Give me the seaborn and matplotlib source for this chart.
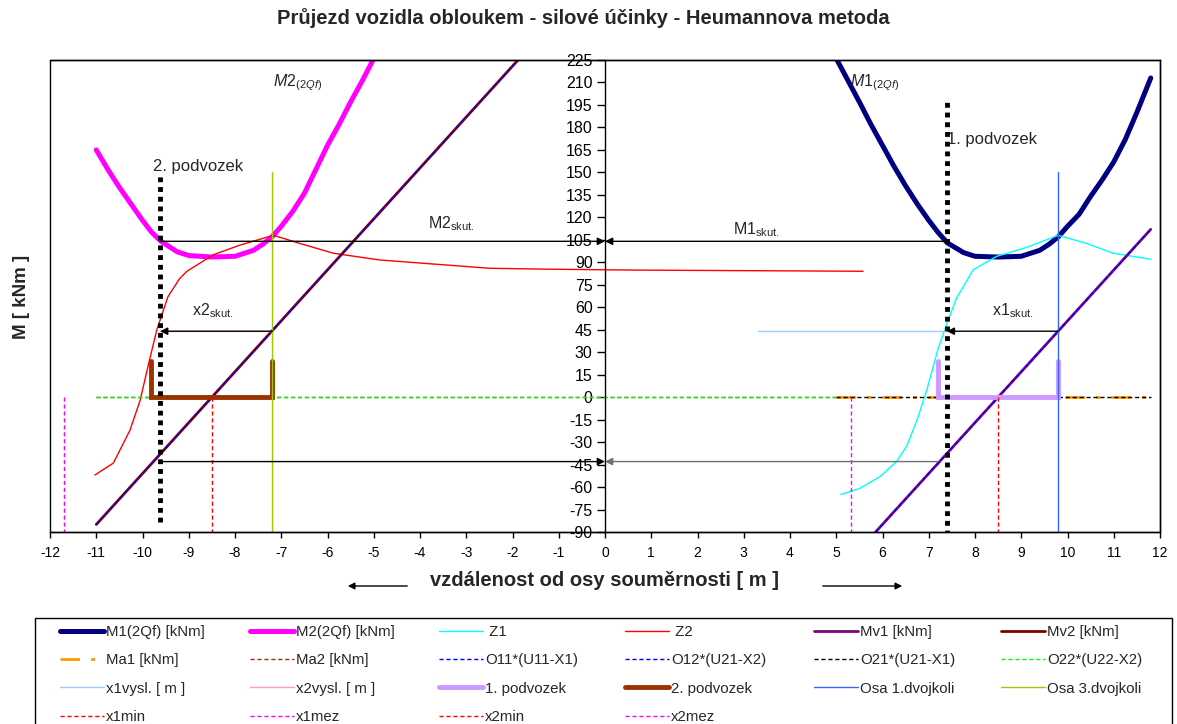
import matplotlib
matplotlib.use("Agg")
import matplotlib.pyplot as plt
import seaborn as sns
from matplotlib.lines import Line2D
from matplotlib.patches import Rectangle, FancyArrowPatch

# ---------------- data ----------------
# bending moment of bogie 1 (2Qf) [kNm]
m1_x = [5.0, 5.5, 5.75, 6.0, 6.25, 6.5, 6.75, 7.0, 7.2, 7.4, 7.75, 8.0, 8.5, 9.0, 9.4, 9.6, 9.8,
        10.0, 10.25, 10.5, 10.75, 11.0, 11.25, 11.5, 11.8]
m1_y = [226, 197, 182, 168, 154, 141, 129, 118, 110, 103, 96.5, 94, 93.5, 94, 98, 102, 107,
        114, 122, 134, 145, 157, 172, 190, 213]
# bending moment of bogie 2 (2Qf) [kNm]
m2_x = [-11.0, -10.75, -10.5, -10.25, -10.0, -9.8, -9.6, -9.25, -9.0, -8.5, -8.0, -7.6, -7.4, -7.2,
        -7.0, -6.75, -6.5, -6.25, -6.0, -5.75, -5.5, -5.25, -5.0]
m2_y = [165, 152, 140, 129, 118, 110, 104, 97, 94.5, 93.5, 94, 98, 102, 107,
        114, 124, 136, 152, 168, 182, 197, 211, 226]
# Z1 / Z2 curves
z1_x = [5.1, 5.5, 5.95, 6.3, 6.52, 6.75, 6.96, 7.2, 7.39, 7.6, 7.96, 8.47, 9.12, 9.8, 10.42, 10.99, 11.8]
z1_y = [-65, -61, -53, -43, -33, -15, 5, 32, 49, 66, 85, 94, 100, 108, 102.5, 96, 92]
z2_x = [-11.03, -10.63, -10.27, -10.05, -9.87, -9.69, -9.45, -9.2, -9.04, -8.47, -7.89, -7.17,
        -6.59, -5.87, -4.86, -2.49, -1.26, 0.61, 3.78, 5.58]
z2_y = [-52, -44, -22, -2, 22, 45, 67, 79, 84, 95, 101.5, 108, 102.5, 96, 91.5, 86, 85.4, 84.8, 84.3, 84]
# guiding moments Mv1 / Mv2 [kNm]
mv1_x = [5.85, 11.8]
mv1_y = [-90, 112]
mv2_x = [-11.0, -1.88]
mv2_y = [-85, 225]
# zero lines
o22_x = [-11.0, 5.0]
o21_x = [5.0, 11.8]
zero_y = [0, 0]
# resulting positions x1 / x2 [m]
x1vysl_x = [3.3, 7.39]
x2vysl_x = [-9.62, -7.19]
x_vysl_y = [44, 44]
# bogie brackets
pod1_x = [7.21, 7.21, 9.80, 9.80]
pod2_x = [-9.82, -9.82, -7.19, -7.19]
pod_y = [24, 0, 0, 24]
# wheelset axes
osa1_x = 9.80
osa3_x = -7.19
osa_y = [-90, 150]
# limit positions
x1min_x, x1mez_x, x2min_x, x2mez_x = 8.49, 5.31, -8.50, -11.70
lim_y = [0, -90]
# bogie centre lines
bogie2_x, bogie2_y = -9.62, [-83, 150]
bogie1_x, bogie1_y = 7.39, [-92, 198]
# actual moments / positions
m_skut = 104
m_low = -43
x_skut = 44

y_ticks = list(range(-90, 226, 15))
x_ticks = list(range(-12, 13))

# ---------------- style ----------------
sns.set_style("white")
plt.rcParams["font.family"] = ["Liberation Sans", "DejaVu Sans"]
plt.rcParams["axes.unicode_minus"] = False
plt.rcParams["mathtext.fontset"] = "custom"
plt.rcParams["mathtext.rm"] = "Liberation Sans"
plt.rcParams["mathtext.it"] = "Liberation Sans:italic"

W, H = 1177, 724
fig = plt.figure(figsize=(W / 100, H / 100), dpi=100)
ax = fig.add_axes([50 / W, 1 - 532 / H, 1110 / W, 472 / H])

C_M1, C_M2 = "#000080", "#FF00FF"
C_Z1, C_Z2 = "#00FFFF", "#FF0000"
C_MV1, C_MV2 = "#800080", "#800000"
C_MA1, C_MA2 = "#FF9900", "#993300"
C_X1V, C_X2V = "#99CCFF", "#FF99CC"
C_P1, C_P2 = "#CC99FF", "#993300"
C_OSA1, C_OSA3 = "#3366FF", "#99CC00"
DASH = (0, (3, 2))
DASHDOT = (0, (7, 4, 1.5, 4))

# main curves
sns.lineplot(x=m1_x, y=m1_y, ax=ax, color=C_M1, lw=3.6, sort=False, estimator=None)
sns.lineplot(x=m2_x, y=m2_y, ax=ax, color=C_M2, lw=3.6, sort=False, estimator=None)
sns.lineplot(x=z1_x, y=z1_y, ax=ax, color=C_Z1, lw=1.0, sort=False, estimator=None)
sns.lineplot(x=z2_x, y=z2_y, ax=ax, color=C_Z2, lw=1.0, sort=False, estimator=None)
sns.lineplot(x=mv1_x, y=mv1_y, ax=ax, color=C_MV1, lw=2.0, sort=False, estimator=None)
sns.lineplot(x=mv2_x, y=mv2_y, ax=ax, color=C_MV2, lw=2.0, sort=False, estimator=None)

# zero lines and overlays
ax.plot(o21_x, zero_y, color=C_MA1, lw=2.0, linestyle=DASHDOT)
ax.plot(o22_x, zero_y, color=C_MA2, lw=1.0, linestyle=DASH)
ax.plot(mv1_x, mv1_y, color="#0000FF", lw=1.0, linestyle=DASH)
ax.plot(mv2_x, mv2_y, color="#0000FF", lw=1.0, linestyle=DASH)
ax.plot(o21_x, zero_y, color="black", lw=1.0, linestyle=DASH)
ax.plot(o22_x, zero_y, color="#00FF00", lw=1.0, linestyle=DASH)

ax.plot(x1vysl_x, x_vysl_y, color=C_X1V, lw=1.0)
ax.plot(x2vysl_x, x_vysl_y, color=C_X2V, lw=1.0)

ax.plot(pod1_x, pod_y, color=C_P1, lw=3.5, solid_joinstyle="miter")
ax.plot(pod2_x, pod_y, color=C_P2, lw=3.5, solid_joinstyle="miter")

ax.plot([osa1_x, osa1_x], osa_y, color=C_OSA1, lw=1.0)
ax.plot([osa3_x, osa3_x], osa_y, color=C_OSA3, lw=1.0)

ax.plot([x1min_x, x1min_x], lim_y, color="#FF0000", lw=1.0, linestyle=DASH)
ax.plot([x1mez_x, x1mez_x], lim_y, color="#FF00FF", lw=1.0, linestyle=DASH)
ax.plot([x2min_x, x2min_x], lim_y, color="#FF0000", lw=1.0, linestyle=DASH)
ax.plot([x2mez_x, x2mez_x], lim_y, color="#FF00FF", lw=1.0, linestyle=DASH)

# bogie centre lines (thick dotted)
ax.plot([bogie2_x, bogie2_x], bogie2_y, color="black", lw=3.5, linestyle=(0, (1, 1)), zorder=6)
ax.plot([bogie1_x, bogie1_x], bogie1_y, color="black", lw=3.5, linestyle=(0, (1, 1)), zorder=6)

# arrows
arr = dict(arrowstyle="-|>", lw=1.0, mutation_scale=11, shrinkA=0, shrinkB=0)
def arrow(x0, y0, x1, y1, color="black"):
    ax.annotate("", xy=(x1, y1), xytext=(x0, y0),
                arrowprops=dict(arr, color=color), zorder=7)

arrow(bogie2_x, m_skut, 0, m_skut)
arrow(bogie1_x, m_skut, 0, m_skut)
arrow(bogie2_x, m_low, 0, m_low)
arrow(7.2, m_low, 0, m_low, color="#707070")
arrow(osa3_x, x_skut, bogie2_x, x_skut)
arrow(osa1_x, x_skut, bogie1_x, x_skut)

# annotations
tfs = 11.5
ax.text(-7.18, 210, r"$\mathit{M2}_{\mathit{(2Qf)}}$", fontsize=tfs, ha="left", va="center")
ax.text(5.30, 210, r"$\mathit{M1}_{\mathit{(2Qf)}}$", fontsize=tfs, ha="left", va="center")
ax.text(-9.77, 154, "2. podvozek", fontsize=12, ha="left", va="center")
ax.text(7.39, 172, "1. podvozek", fontsize=12, ha="left", va="center")
ax.text(-8.93, 58, r"x2$_{\mathrm{skut.}}$", fontsize=tfs, ha="left", va="center")
ax.text(8.37, 58, r"x1$_{\mathrm{skut.}}$", fontsize=tfs, ha="left", va="center")
ax.text(-3.83, 115.5, r"M2$_{\mathrm{skut.}}$", fontsize=tfs, ha="left", va="center")
ax.text(2.77, 111.5, r"M1$_{\mathrm{skut.}}$", fontsize=tfs, ha="left", va="center")

# axes
ax.set_xlim(-12, 12)
ax.set_ylim(-90, 225)
ax.set_xticks(x_ticks)
ax.set_yticks(y_ticks)
ax.spines["left"].set_position(("data", 0))
for s in ax.spines.values():
    s.set_color("black")
    s.set_linewidth(1.0)
ax.add_patch(Rectangle((0, 0), 1, 1, transform=ax.transAxes, fill=False,
                       edgecolor="black", lw=1.0, clip_on=False, zorder=8))
ax.tick_params(axis="y", direction="out", length=6, width=1, pad=3, labelsize=11.5,
               left=True, colors="black")
ax.tick_params(axis="x", direction="out", length=4, width=1, pad=6, labelsize=10,
               bottom=True, colors="black")
ax.set_xlabel("")
ax.set_ylabel("")

# titles
fig.text(583 / W, 1 - 18 / H, "Průjezd vozidla obloukem - silové účinky - Heumannova metoda",
         ha="center", va="center", fontsize=14.5, fontweight="bold")
fig.text(22 / W, 1 - 297 / H, "M [ kNm ]", rotation=90, ha="center", va="center",
         fontsize=13.5, fontweight="bold")
fig.text(604 / W, 1 - 580 / H, "vzdálenost od osy souměrnosti [ m ]", ha="center",
         va="center", fontsize=14.5, fontweight="bold")
for xa, xb in [(410, 345), (820, 905)]:
    fig.add_artist(FancyArrowPatch((xa / W, 1 - 586 / H), (xb / W, 1 - 586 / H),
                                   transform=fig.transFigure, arrowstyle="-|>",
                                   mutation_scale=10, lw=1.0, color="black"))

# legend
def h(color, lw=1.0, ls="-"):
    return Line2D([], [], color=color, lw=lw, linestyle=ls)

entries = [
    (h(C_M1, 3.6), "M1(2Qf) [kNm]"), (h(C_M2, 3.6), "M2(2Qf) [kNm]"),
    (h(C_Z1), " Z1"), (h(C_Z2), " Z2"),
    (h(C_MV1, 2.0), "Mv1 [kNm]"), (h(C_MV2, 2.0), "Mv2 [kNm]"),
    (h(C_MA1, 2.0, DASHDOT), "Ma1 [kNm]"), (h(C_MA2, 1.0, DASH), "Ma2 [kNm]"),
    (h("#0000FF", 1.0, DASH), "O11*(U11-X1)"), (h("#0000FF", 1.0, DASH), "O12*(U21-X2)"),
    (h("black", 1.0, DASH), "O21*(U21-X1)"), (h("#00FF00", 1.0, DASH), "O22*(U22-X2)"),
    (h(C_X1V), "x1vysl. [ m ]"), (h(C_X2V), "x2vysl. [ m ]"),
    (h(C_P1, 3.5), "1. podvozek"), (h(C_P2, 3.5), "2. podvozek"),
    (h(C_OSA1), "Osa 1.dvojkoli"), (h(C_OSA3), "Osa 3.dvojkoli"),
    (h("#FF0000", 1.0, DASH), "x1min"), (h("#FF00FF", 1.0, DASH), "x1mez"),
    (h("#FF0000", 1.0, DASH), "x2min"), (h("#FF00FF", 1.0, DASH), "x2mez"),
]
lfs = 10.8
fpx = lfs * 100 / 72
col_x = [60, 250, 439, 625, 814, 1001]
for c, x0 in enumerate(col_x):
    items = entries[c::6]
    fig.legend([e[0] for e in items], [e[1] for e in items], loc="upper left",
               bbox_to_anchor=(x0 / W, 1 - 625 / H), frameon=False, fontsize=lfs,
               handlelength=44 / fpx, handletextpad=2 / fpx, labelspacing=0.95,
               borderpad=0, borderaxespad=0)
fig.add_artist(Rectangle((35 / W, 1 - 728 / H), (1172 - 35) / W, (728 - 618) / H,
                         transform=fig.transFigure, fill=False, edgecolor="black", lw=1.0))

fig.savefig("out.png", dpi=100)
